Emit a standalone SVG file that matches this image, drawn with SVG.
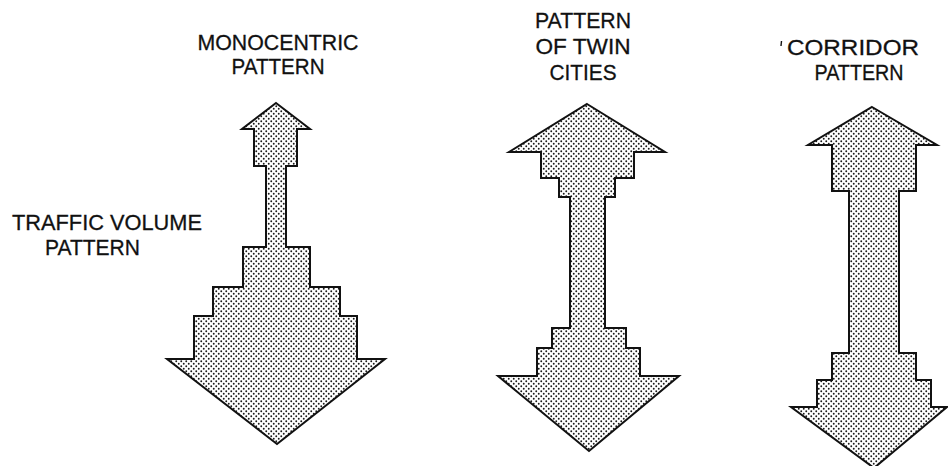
<svg xmlns="http://www.w3.org/2000/svg" width="948" height="466" viewBox="0 0 948 466">
  <defs>
    <pattern id="stipple" width="5" height="5" patternUnits="userSpaceOnUse">
      <rect width="5" height="5" fill="#fff"/>
      <circle cx="1.25" cy="1.25" r="0.95" fill="#1a1a1a"/>
      <circle cx="3.75" cy="3.75" r="0.95" fill="#1a1a1a"/>
    </pattern>
  </defs>
  <style>
    .arrow { fill: url(#stipple); stroke: #111; stroke-width: 2; stroke-linejoin: miter; }
    .lbl { font-family: "Liberation Sans", Arial, sans-serif; font-size: 22px; fill: #111; stroke: #111; stroke-width: 0.3; text-anchor: middle; }
  </style>
  <rect width="948" height="466" fill="#fff"/>

  <g id="monocentric">
    <path class="arrow" d="M276,103 L310,129 L297,129 L297,166 L286,166 L286,247 L310,247 L310,287 L340,287 L340,316 L357,316 L357,359 L385,359 L277,444 L167,359 L194,359 L194,316 L213,316 L213,287 L243,287 L243,247 L266,247 L266,166 L254,166 L254,129 L242,129 Z"/>
    <text class="lbl" x="278" y="49.5" textLength="161" lengthAdjust="spacingAndGlyphs">MONOCENTRIC</text>
    <text class="lbl" x="278" y="74" textLength="93" lengthAdjust="spacingAndGlyphs">PATTERN</text>
  </g>

  <g id="traffic-label">
    <text class="lbl" x="107" y="230" textLength="190" lengthAdjust="spacingAndGlyphs">TRAFFIC VOLUME</text>
    <text class="lbl" x="92.5" y="255" textLength="95" lengthAdjust="spacingAndGlyphs">PATTERN</text>
  </g>

  <g id="twin-cities">
    <path class="arrow" d="M587,104 L665,152 L634,152 L634,178 L615,178 L615,197 L605,197 L605,328 L626,328 L626,348 L640,348 L640,376 L679,376 L589,451 L498,376 L537,376 L537,348 L552,348 L552,328 L570,328 L570,197 L559,197 L559,178 L541,178 L541,152 L509,152 Z"/>
    <text class="lbl" x="583" y="27.5" textLength="96" lengthAdjust="spacingAndGlyphs">PATTERN</text>
    <text class="lbl" x="583" y="53.5" textLength="95" lengthAdjust="spacingAndGlyphs">OF TWIN</text>
    <text class="lbl" x="583" y="79.5" textLength="67" lengthAdjust="spacingAndGlyphs">CITIES</text>
  </g>

  <g id="corridor">
    <path class="arrow" d="M872,107 L937,145 L916,145 L916,191 L899,191 L899,353 L916,353 L916,380 L931,380 L931,407 L947,407 L874,468 L791,407 L817,407 L817,380 L832,380 L832,353 L849,353 L849,191 L832,191 L832,145 L808,145 Z"/>
    <line x1="781.5" y1="41" x2="781" y2="46" stroke="#111" stroke-width="1.4"/>
    <text class="lbl" x="853" y="55" textLength="132" lengthAdjust="spacingAndGlyphs">CORRIDOR</text>
    <text class="lbl" x="859" y="80" textLength="89" lengthAdjust="spacingAndGlyphs">PATTERN</text>
  </g>
</svg>
